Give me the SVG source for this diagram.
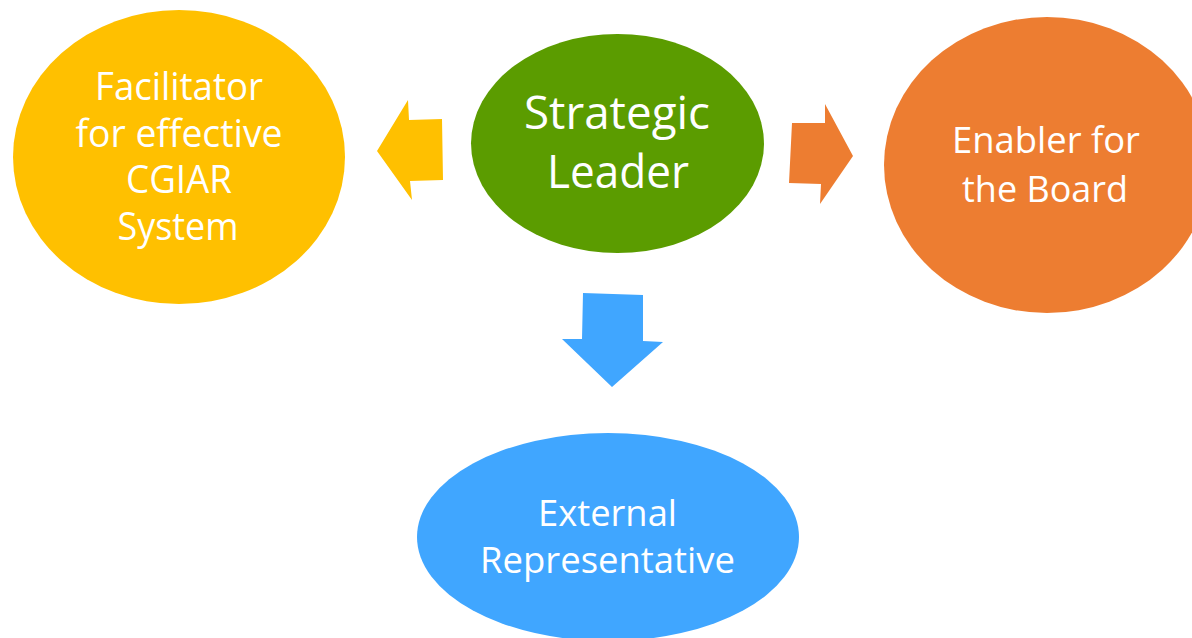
<svg xmlns="http://www.w3.org/2000/svg" width="1192" height="638" viewBox="0 0 1192 638">
<style>
.t{font-family:"Open Sans","Noto Sans","Liberation Sans",sans-serif;fill:#ffffff;text-anchor:middle}
</style>
<rect width="1192" height="638" fill="#ffffff"/>
<g id="connectors">
<polygon id="arrow-left" fill="#FFC000" points="377,151 408,100 409,120 442,119 443,180 410,181 412,200"/>
<polygon id="arrow-right" fill="#ED7D31" points="792,123 825,123 825,104 853,156 820,204 821,184 789,183"/>
<polygon id="arrow-down" fill="#40A6FF" points="583,293 643,295 643,341 663,342 612,387 562,339 582,339"/>
</g>
<g id="node-facilitator">
<ellipse cx="179" cy="157" rx="166" ry="147" fill="#FFC000"/>
<text class="t" font-size="38"><tspan x="179" y="100" textLength="168" lengthAdjust="spacingAndGlyphs">Facilitator</tspan><tspan x="179" y="147" textLength="207" lengthAdjust="spacingAndGlyphs">for effective</tspan><tspan x="179" y="193" textLength="106" lengthAdjust="spacingAndGlyphs">CGIAR</tspan><tspan x="178" y="240" textLength="121" lengthAdjust="spacingAndGlyphs">System</tspan></text>
</g>
<g id="node-strategic">
<ellipse cx="617.5" cy="143.5" rx="146.5" ry="109.5" fill="#5B9C00"/>
<text class="t" font-size="46"><tspan x="617" y="129" textLength="186" lengthAdjust="spacingAndGlyphs">Strategic</tspan><tspan x="618" y="188" textLength="142" lengthAdjust="spacingAndGlyphs">Leader</tspan></text>
</g>
<g id="node-enabler">
<ellipse cx="1047" cy="165" rx="163" ry="148" fill="#ED7D31"/>
<text class="t" font-size="36"><tspan x="1046" y="153" textLength="188" lengthAdjust="spacingAndGlyphs">Enabler for</tspan><tspan x="1045" y="202" textLength="166" lengthAdjust="spacingAndGlyphs">the Board</tspan></text>
</g>
<g id="node-external">
<ellipse cx="608" cy="537" rx="191" ry="104" fill="#40A6FF"/>
<text class="t" font-size="36.5"><tspan x="607.5" y="526" textLength="139" lengthAdjust="spacingAndGlyphs">External</tspan><tspan x="607.5" y="573" textLength="255" lengthAdjust="spacingAndGlyphs">Representative</tspan></text>
</g>
</svg>
